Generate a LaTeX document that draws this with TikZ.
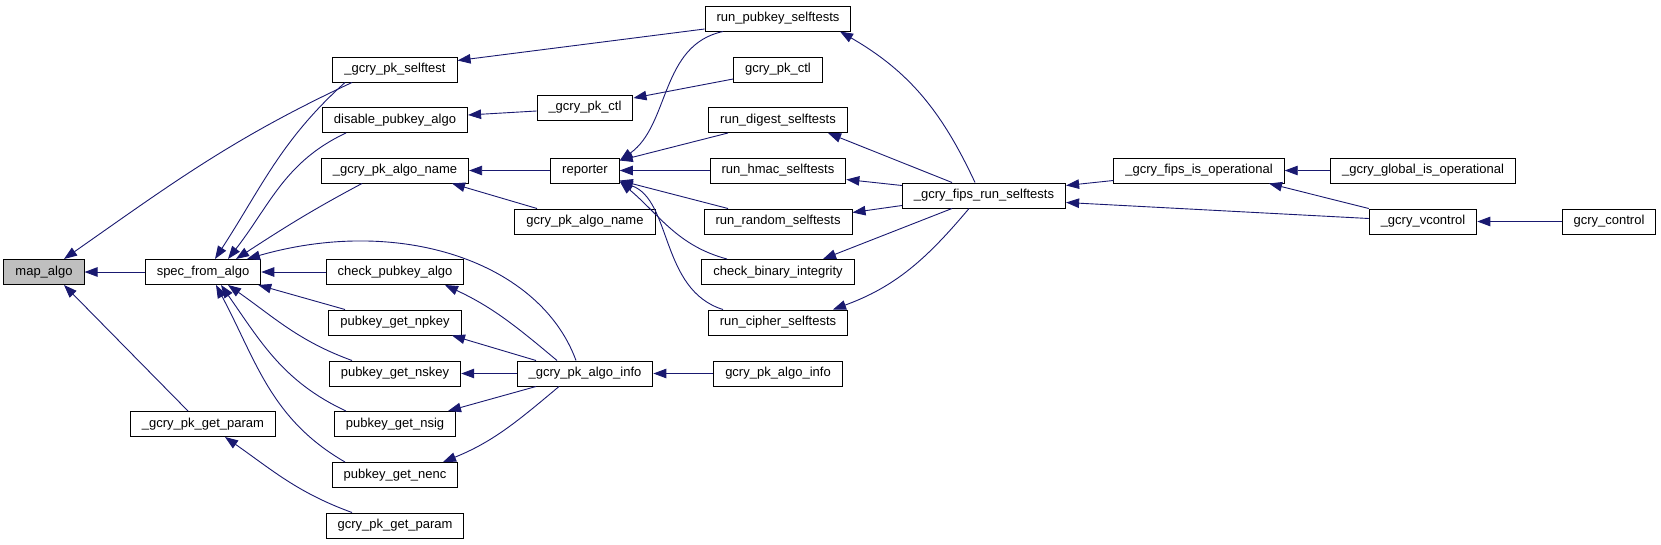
\documentclass[tikz,border=0pt]{standalone}
\usepackage{fontspec}
\setmainfont{Liberation Sans}
\usetikzlibrary{arrows.meta}
\definecolor{callblue}{HTML}{191970}
\definecolor{focusgray}{HTML}{BFBFBF}

\begin{document}
\begin{tikzpicture}[x=1pt, y=1pt, >={Triangle[length=13pt,width=9.5pt]},
  every node/.style={draw, line width=1pt, inner xsep=11.5pt, minimum height=25pt, font=\fontsize{13}{15}\selectfont},
  call/.style={<-, draw=callblue, line width=0.9pt}]
\useasboundingbox (0,0) rectangle (1661,-544);

% column 1 and 2
\node[fill=focusgray] (map) at (44,-272) {map\_algo};
\node (spec) at (203,-272) {spec\_from\_algo};
\node (getparam) at (203,-424) {\_gcry\_pk\_get\_param};

% column 3
\node (pkselftest) at (395,-69.5) {\_gcry\_pk\_selftest};
\node (disable) at (395,-120) {disable\_pubkey\_algo};
\node (algoname) at (395,-170.5) {\_gcry\_pk\_algo\_name};
\node (check) at (395,-272) {check\_pubkey\_algo};
\node (npkey) at (395,-322.5) {pubkey\_get\_npkey};
\node (nskey) at (395,-373.5) {pubkey\_get\_nskey};
\node (nsig) at (395,-424) {pubkey\_get\_nsig};
\node (nenc) at (395,-475) {pubkey\_get\_nenc};
\node (gcrygetparam) at (395,-525.5) {gcry\_pk\_get\_param};

% column 4
\node (pkctl) at (585,-107.5) {\_gcry\_pk\_ctl};
\node (reporter) at (585,-170.5) {reporter};
\node (gcryalgoname) at (585,-221.5) {gcry\_pk\_algo\_name};
\node (algoinfo) at (585,-373.5) {\_gcry\_pk\_algo\_info};

% column 5
\node (runpubkey) at (778,-18.5) {run\_pubkey\_selftests};
\node (gcrypkctl) at (778,-69.5) {gcry\_pk\_ctl};
\node (rundigest) at (778,-120) {run\_digest\_selftests};
\node (runhmac) at (778,-170.5) {run\_hmac\_selftests};
\node (runrandom) at (778,-221.5) {run\_random\_selftests};
\node (checkbin) at (778,-272) {check\_binary\_integrity};
\node (runcipher) at (778,-322.5) {run\_cipher\_selftests};
\node (gcryalgoinfo) at (778,-373.5) {gcry\_pk\_algo\_info};

% right part
\node (fipsrun) at (984,-195.5) {\_gcry\_fips\_run\_selftests};
\node (fipsisop) at (1199,-170.5) {\_gcry\_fips\_is\_operational};
\node (globalisop) at (1423,-170.5) {\_gcry\_global\_is\_operational};
\node (vcontrol) at (1423,-221.5) {\_gcry\_vcontrol};
\node (control) at (1609,-221.5) {gcry\_control};

% callers of map_algo
\draw[call] ([xshift=20pt]map.north) to[out=35,in=205] ([xshift=-43pt]pkselftest.south);
\draw[call] (map.east) -- (spec.west);
\draw[call] ([xshift=20pt]map.south) -- ([xshift=-15pt]getparam.north);

% callers of spec_from_algo
\draw[call] ([xshift=12pt]spec.north) to[out=57,in=222] ([xshift=-50pt]pkselftest.south);
\draw[call] ([xshift=25pt]spec.north) to[out=52,in=205] ([xshift=-49pt]disable.south);
\draw[call] ([xshift=33pt]spec.north) to[out=33,in=208] ([xshift=-33pt]algoname.south);
\draw[call] ([xshift=44pt]spec.north) .. controls (400,-215) and (540,-262) .. ([xshift=-9pt]algoinfo.north);
\draw[call] (spec.east) -- (check.west);
\draw[call] ([xshift=-3pt]spec.south east) -- ([xshift=-50pt]npkey.north);
\draw[call] ([xshift=25pt]spec.south) to[out=-35,in=160] ([xshift=-43pt]nskey.north);
\draw[call] ([xshift=18pt]spec.south) to[out=-55,in=155] ([xshift=-49pt]nsig.north);
\draw[call] ([xshift=13pt]spec.south) to[out=-62,in=150] ([xshift=-50pt]nenc.north);
\draw[call] ([xshift=22pt]getparam.south) to[out=-35,in=160] ([xshift=-43pt]gcrygetparam.north);

% third column callers
\draw[call] ([yshift=9pt]pkselftest.east) -- ([yshift=-10.5pt]runpubkey.west);
\draw[call] ([yshift=5pt]disable.east) -- ([yshift=-3.5pt]pkctl.west);
\draw[call] (algoname.east) -- (reporter.west);
\draw[call] ([xshift=57pt]algoname.south) -- ([xshift=-48pt]gcryalgoname.north);
\draw[call] ([xshift=50pt]check.south) to[out=-25,in=140] ([xshift=-28pt]algoinfo.north);
\draw[call] ([xshift=57pt]npkey.south) -- ([xshift=-49pt]algoinfo.north);
\draw[call] (nskey.east) -- (algoinfo.west);
\draw[call] ([xshift=53pt]nsig.north) -- ([xshift=-49pt]algoinfo.south);
\draw[call] ([xshift=48pt]nenc.north) to[out=22,in=220] ([xshift=-26pt]algoinfo.south);

% fourth column callers
\draw[call] ([yshift=9.5pt]pkctl.east) -- ([yshift=-9.5pt]gcrypkctl.west);
\draw[call] ([yshift=10pt]reporter.east) .. controls (670,-125) and (660,-45) .. ([xshift=-55pt]runpubkey.south);
\draw[call] ([yshift=10pt]reporter.east) -- ([xshift=-50pt]rundigest.south);
\draw[call] (reporter.east) -- (runhmac.west);
\draw[call] ([yshift=-10pt]reporter.east) -- ([xshift=-50pt]runrandom.north);
\draw[call] ([yshift=-11pt]reporter.east) to[out=-40,in=165] ([xshift=-51pt]checkbin.north);
\draw[call] ([yshift=-11pt]reporter.east) .. controls (672,-200) and (660,-290) .. ([xshift=-55pt]runcipher.north);
\draw[call] (algoinfo.east) -- (gcryalgoinfo.west);

% selftest runners
\draw[call] ([xshift=62pt]runpubkey.south) to[out=-30,in=115] ([xshift=-9pt]fipsrun.north);
\draw[call] ([xshift=50pt]rundigest.south) -- ([xshift=-32pt]fipsrun.north);
\draw[call] ([yshift=-9pt]runhmac.east) -- ([yshift=10pt]fipsrun.west);
\draw[call] ([yshift=9pt]runrandom.east) -- ([yshift=-10pt]fipsrun.west);
\draw[call] ([xshift=45pt]checkbin.north) -- ([xshift=-32pt]fipsrun.south);
\draw[call] ([xshift=55pt]runcipher.north) to[out=20,in=-130] ([xshift=-15pt]fipsrun.south);

% fips and control
\draw[call] ([yshift=10pt]fipsrun.east) -- ([yshift=-10pt]fipsisop.west);
\draw[call] ([yshift=-7pt]fipsrun.east) -- ([yshift=3pt]vcontrol.west);
\draw[call] (fipsisop.east) -- (globalisop.west);
\draw[call] ([xshift=70pt]fipsisop.south) -- (vcontrol.north west);
\draw[call] (vcontrol.east) -- (control.west);
\end{tikzpicture}
\end{document}
